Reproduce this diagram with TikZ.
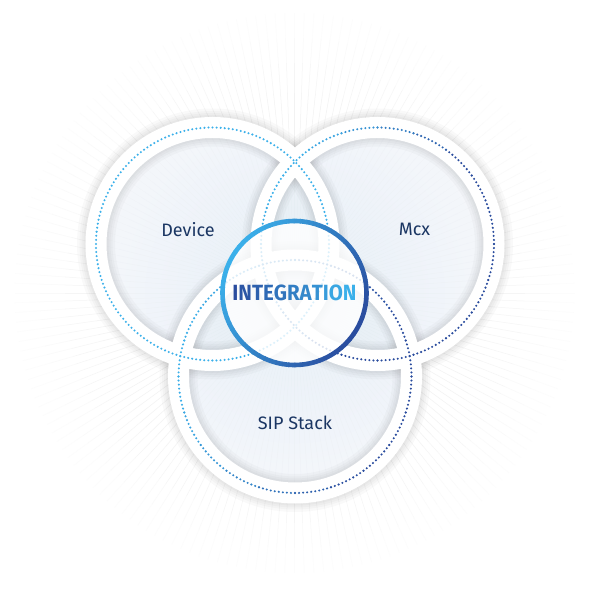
\documentclass[tikz,border=0pt]{standalone}
\usepackage{fontspec}
\setmainfont{Fira Sans}

\definecolor{dotlight}{HTML}{3BB0EA}
\definecolor{dotdark}{HTML}{2A4C9E}
\definecolor{labelnavy}{HTML}{1B3663}
\definecolor{innerfill}{HTML}{E2ECF7}
\definecolor{lensfill}{HTML}{C5D2E0}

% letters of the middle word, dark blue to light blue
\newcommand\gradword{%
  \foreach \ch [count=\k from 0] in {I,N,T,E,G,R,A,T,I,O,N}{\pgfmathtruncatemacro\m{\k*10}\textcolor{dotlight!\m!dotdark}{\ch}}%
}

\begin{document}
\begin{tikzpicture}[
        x=1pt, y=1pt,
        % soft grey halo under the white rings
        ringshadow/.style={
            draw=black,
            line width=#1,
            opacity=0.025
        },
        whitering/.style={
            draw=white,
            line width=21pt
        },
        dots/.style={
            line width=2.3pt,
            line cap=round,
            dash pattern=on 0pt off 4.066pt
        },
        circletext/.style={
            font=\fontsize{18}{20}\selectfont,
            text=labelnavy,
            inner sep=0pt
        }
    ]

    \useasboundingbox (0,0) rectangle (590,590);
    \fill[white] (0,0) rectangle (590,590);

    \coordinate (mid) at (294.5,297);
    \coordinate (dev) at (212.5,346);
    \coordinate (mcx) at (377.5,346);
    \coordinate (sip) at (295,213.5);

    % --- sunburst, fainter towards the edge ---
    \foreach \a in {0,2,...,358} {
        \foreach \ra/\rb/\g in {0/200/5, 200/230/4, 230/255/2.5, 255/280/1.2}
            \draw[black!\g, line width=0.5pt] (mid) ++(\a:\ra) -- ++(\a:\rb-\ra);
    }

    % inside of the three circles
    \begin{scope}
        \clip (dev) circle[radius=108] (mcx) circle[radius=108] (sip) circle[radius=108];
        \shade[inner color=innerfill, outer color=white, opacity=0.75] (mid) circle[radius=300];
        \foreach \c in {dev,mcx,sip}
            \fill[lensfill, opacity=0.06] (\c) circle[radius=108];
    \end{scope}

    % halo and white rings
    \foreach \c in {dev,mcx,sip} {
        \foreach \w in {38,33,29,25}
            \draw[ringshadow=\w pt] (\c) circle[radius=116.5];
    }
    \foreach \c in {dev,mcx,sip}
        \draw[whitering] (\c) circle[radius=116.5];

    % --- dotted circles ---
    \draw[dots, dotlight] (dev) circle[radius=116.5];

    \foreach \a in {0,18,...,342} {
        \pgfmathtruncatemacro\m{min(100,80*(1-cos(\a+9-150)))}
        \draw[dots, draw=dotdark!\m!dotlight] (mcx) ++(\a:116.5) arc[start angle=\a, end angle=\a+18, radius=116.5];
    }

    \foreach \a in {0,18,...,342} {
        \pgfmathtruncatemacro\m{min(100,60*(1-cos(\a+9-170)))}
        \draw[dots, draw=dotdark!\m!dotlight] (sip) ++(\a:116.5) arc[start angle=\a, end angle=\a+18, radius=116.5];
    }

    % --- middle circle ---
    \node[circle, minimum size=144, inner sep=0pt, fill=white, fill opacity=0.82, text opacity=1,
          font=\bfseries\fontsize{22}{24}\selectfont] (integ) at (mid) {\scalebox{0.93}[1]{\gradword}};
    \foreach \a in {0,5,...,355} {
        \pgfmathtruncatemacro\m{50*(1-cos(\a+2.5-150))}
        \draw[line width=4.6pt, draw=dotdark!\m!dotlight] (integ.center) ++(\a:72) arc[start angle=\a, end angle=\a+5.6, radius=72];
    }

    % labels
    \node[circletext] (device) at (188,360.5) {Device};
    \node[circletext] (mcxname) at (414.5,360.5) {Mcx};
    \node[circletext] (sipstack) at (295,167) {SIP Stack};

\end{tikzpicture}
\end{document}
